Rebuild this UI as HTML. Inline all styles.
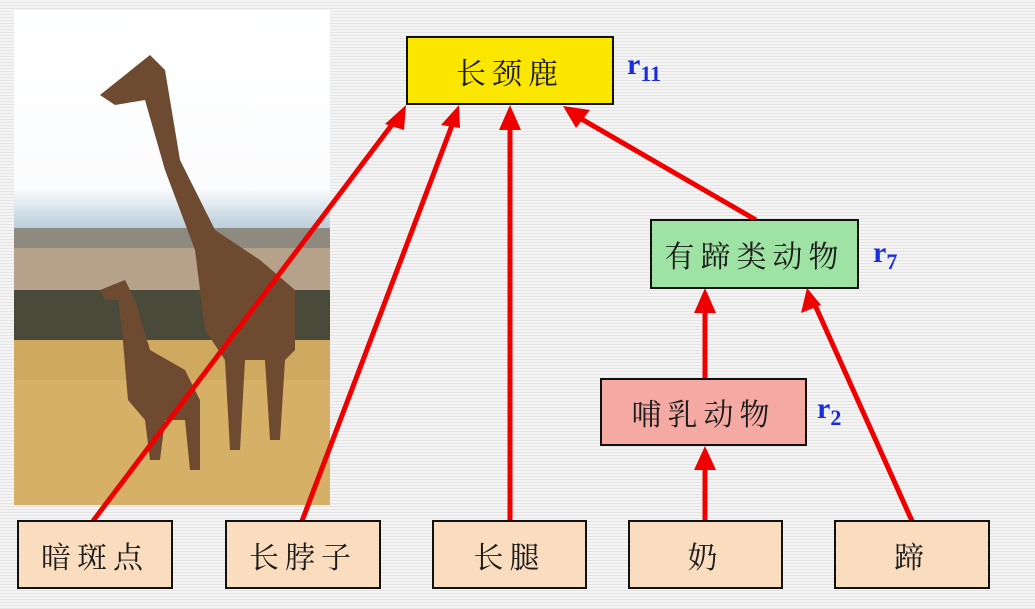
<!DOCTYPE html>
<html><head><meta charset="utf-8"><style>
body{margin:0;width:1035px;height:609px;overflow:hidden;background:#f1f1f1;background-image:repeating-linear-gradient(#f4f4f4 0 2px,#e4e4e4 2px 3px);font-family:"Liberation Serif","Noto Serif CJK SC",serif;position:relative}
.b{position:absolute;border:2px solid #111;box-sizing:border-box;display:flex;align-items:center;justify-content:center;font-size:30px;letter-spacing:6px;color:#1a1a1a}
.r{position:absolute;color:#1a2be0;font-weight:bold;font-size:30px;font-family:"Liberation Serif",serif}
.r sub{font-size:22px}
</style></head><body>
<svg style="position:absolute;left:0;top:0" width="1035" height="609">
<defs><linearGradient id="sky" x1="0" y1="0" x2="0" y2="1"><stop offset="0" stop-color="#fff"/><stop offset="0.36" stop-color="#fbfcfd"/><stop offset="0.42" stop-color="#c9d9e3"/><stop offset="0.47" stop-color="#a9c0cc"/></linearGradient></defs>
<rect x="14" y="10" width="316" height="495" fill="url(#sky)"/>
<rect x="14" y="228" width="316" height="20" fill="#8e8a7f"/>
<rect x="14" y="248" width="316" height="45" fill="#b6a28a"/>
<rect x="14" y="290" width="316" height="55" fill="#4a4a3a"/>
<rect x="14" y="340" width="316" height="165" fill="#cfa95f"/>
<rect x="14" y="380" width="316" height="125" fill="#d8b46a" opacity=".7"/>
<g fill="#6e4a30">
<path d="M100 95 L150 55 L165 70 L180 160 L215 230 L260 260 L295 290 L295 350 L285 360 L280 440 L270 440 L265 360 L245 360 L240 450 L230 450 L225 360 L205 330 L195 250 L165 170 L145 100 L115 105Z"/>
<path d="M100 290 L125 280 L135 300 L150 350 L185 370 L200 400 L200 470 L190 470 L185 420 L165 420 L160 460 L150 460 L145 420 L128 400 L122 330 L118 300 L105 300Z"/>
</g>
<g stroke="#e00" stroke-width="5" fill="none">
<line x1="93" y1="521" x2="397" y2="118"/>
<line x1="302" y1="521" x2="454" y2="120"/>
<line x1="510" y1="521" x2="510" y2="122"/>
<line x1="756" y1="220" x2="578" y2="117"/>
<line x1="705" y1="378" x2="705" y2="305"/>
<line x1="912" y1="521" x2="815" y2="305"/>
<line x1="705" y1="521" x2="705" y2="462"/>
</g>
<g fill="#e00">
<polygon points="406,105 385,124 404,130"/>
<polygon points="459,105 441,125 460,128"/>
<polygon points="510,105 499,130 521,130"/>
<polygon points="563,106 590,110 576,128"/>
<polygon points="705,288 694,313 716,313"/>
<polygon points="807,288 801,313 821,305"/>
<polygon points="705,446 694,470 716,470"/>
</g>
</svg>
<div class="b" style="left:406px;top:36px;width:208px;height:69px;background:#fbe600">长颈鹿</div>
<div class="r" style="left:627px;top:48px">r<sub>11</sub></div>
<div class="b" style="left:650px;top:219px;width:209px;height:70px;background:#9ee3a3">有蹄类动物</div>
<div class="r" style="left:873px;top:236px">r<sub>7</sub></div>
<div class="b" style="left:600px;top:378px;width:207px;height:68px;background:#f4a9a3">哺乳动物</div>
<div class="r" style="left:817px;top:392px">r<sub>2</sub></div>
<div class="b" style="left:17px;top:520px;width:156px;height:69px;background:#fadcbe">暗斑点</div>
<div class="b" style="left:225px;top:520px;width:156px;height:69px;background:#fadcbe">长脖子</div>
<div class="b" style="left:432px;top:520px;width:155px;height:69px;background:#fadcbe">长腿</div>
<div class="b" style="left:628px;top:520px;width:155px;height:69px;background:#fadcbe">奶</div>
<div class="b" style="left:834px;top:520px;width:156px;height:69px;background:#fadcbe">蹄</div>
</body></html>
